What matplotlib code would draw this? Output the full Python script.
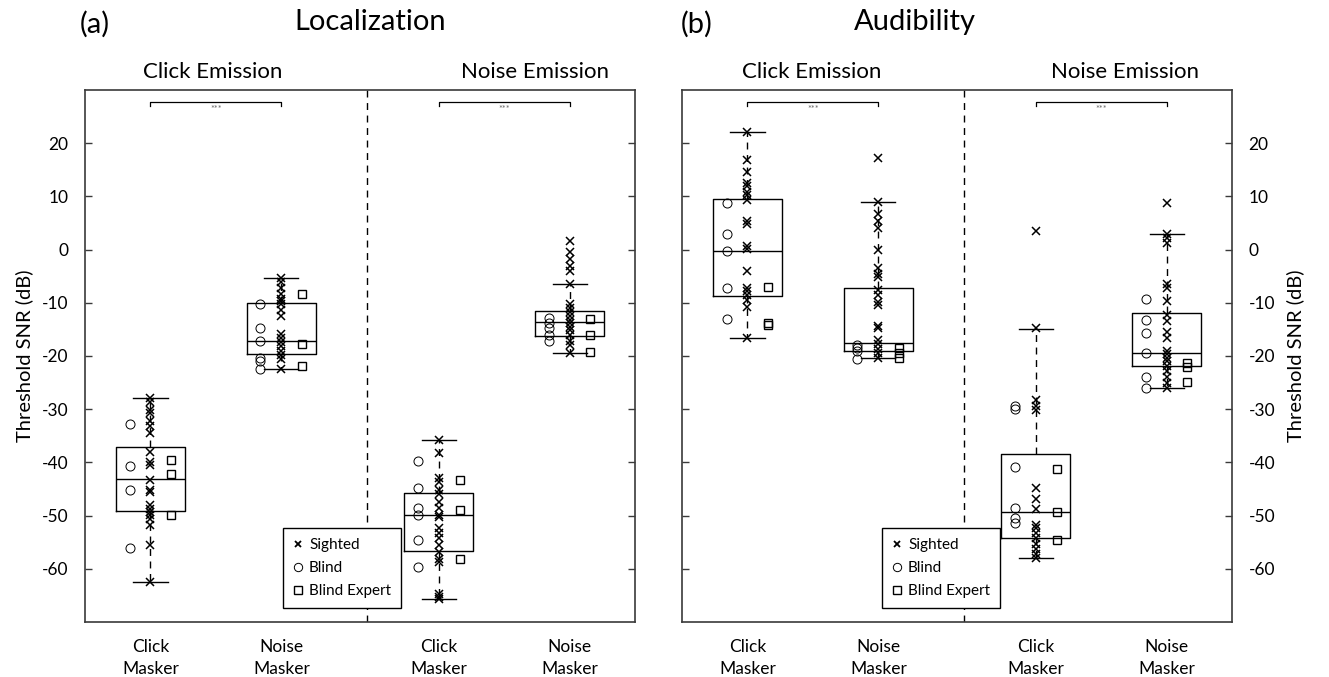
import matplotlib
matplotlib.use("Agg")
import matplotlib.pyplot as plt
from matplotlib.lines import Line2D

plt.rcParams['font.family'] = ['Lato', 'DejaVu Sans']

# ---------------- data ----------------
panel_titles = ["Localization", "Audibility"]
panel_tags = ["(a)", "(b)"]
emission_labels = ["Click Emission", "Noise Emission"]
masker_labels = ["Click\nMasker", "Noise\nMasker", "Click\nMasker", "Noise\nMasker"]
positions = [1, 2, 3.2, 4.2]

# box statistics: [click/click, click/noise, noise/click, noise/noise]
loc_whishi = [-27.9, -5.4, -35.8, -6.4]
loc_q3 = [-37.1, -10.1, -45.7, -11.5]
loc_med = [-43.2, -17.2, -49.9, -13.7]
loc_q1 = [-49.2, -19.6, -56.7, -16.2]
loc_whislo = [-62.4, -22.4, -65.6, -19.5]

aud_whishi = [22.1, 9.0, -14.9, 3.0]
aud_q3 = [9.5, -7.2, -38.4, -11.9]
aud_med = [-0.3, -17.5, -49.4, -19.5]
aud_q1 = [-8.7, -19.0, -54.3, -21.8]
aud_whislo = [-16.7, -20.4, -57.9, -26.0]

# individual thresholds (dB)
loc_sighted = [
    [-27.9, -28.7, -30.1, -30.7, -32.3, -33.1, -34.4, -38.0, -39.9, -40.4, -43.3,
     -45.1, -45.6, -48.1, -48.8, -49.4, -49.9, -50.7, -51.7, -55.5, -62.4],
    [-5.4, -6.0, -7.3, -8.3, -9.2, -9.6, -10.3, -11.4, -12.5, -15.8, -16.6, -17.4,
     -18.2, -19.0, -19.8, -20.6, -22.4],
    [-35.8, -38.3, -43.0, -43.6, -45.2, -45.9, -47.5, -48.5, -49.9, -50.3, -52.4,
     -53.3, -54.3, -55.6, -56.9, -58.2, -58.8, -64.7, -65.3, -65.6],
    [1.6, -0.5, -1.8, -3.1, -4.1, -6.4, -10.3, -10.9, -11.7, -12.5, -13.2, -13.8,
     -14.5, -15.1, -16.1, -17.1, -18.0, -19.5],
]
loc_blind = [
    [-32.7, -40.7, -45.2, -56.1],
    [-10.3, -14.7, -17.2, -20.3, -21.0, -22.4],
    [-39.7, -44.9, -48.5, -49.9, -54.6, -59.7],
    [-12.8, -13.8, -14.8, -16.1, -17.1],
]
loc_expert = [
    [-39.6, -42.2, -49.8],
    [-8.3, -17.7, -21.8],
    [-43.3, -49.0, -58.2],
    [-13.0, -16.0, -19.2],
]

aud_sighted = [
    [22.1, 16.9, 14.5, 12.6, 11.9, 10.9, 10.3, 9.3, 5.4, 4.8, 0.7, 0.1, -4.1, -7.2,
     -7.8, -8.5, -9.4, -10.7, -16.7],
    [17.3, 9.0, 6.7, 5.4, 4.1, -0.1, -3.5, -4.5, -5.2, -7.5, -8.6, -9.8, -10.5,
     -14.3, -14.8, -17.0, -17.7, -18.7, -19.5, -20.4],
    [3.5, -14.7, -28.3, -29.4, -30.2, -44.9, -46.9, -48.8, -51.7, -52.4, -53.3,
     -54.3, -55.3, -56.2, -57.2, -57.9],
    [8.7, 3.0, 2.2, 1.3, -6.4, -7.2, -9.6, -12.2, -13.5, -15.4, -16.6, -19.0, -19.6,
     -20.3, -20.9, -21.9, -22.9, -23.9, -25.1, -26.0],
]
aud_blind = [
    [8.7, 3.0, -0.2, -7.2, -13.0],
    [-17.9, -18.5, -19.1, -20.6],
    [-29.4, -30.0, -40.9, -48.5, -50.4, -51.4],
    [-9.3, -13.2, -15.6, -19.5, -24.0, -26.0],
]
aud_expert = [
    [-7.0, -13.8, -14.1],
    [-18.5, -19.5, -20.4],
    [-41.3, -49.3, -54.5],
    [-21.3, -22.0, -24.8],
]

yticks = [-60, -50, -40, -30, -20, -10, 0, 10, 20]
legend_labels = ["Sighted", "Blind", "Blind Expert"]

# ---------------- figure ----------------
W, H = 1329, 677
fig = plt.figure(figsize=(W / 100, H / 100), dpi=100)

def fx(px):
    return px / W

def fy(py):
    return 1 - py / H

axes_px = [(85, 635), (682, 1232)]
top_px, bot_px = 90, 622
spine_col = '#3a3a3a'
emission_px = [(213, 535), (812, 1125)]

panels = [
    (loc_whishi, loc_q3, loc_med, loc_q1, loc_whislo, loc_sighted, loc_blind, loc_expert),
    (aud_whishi, aud_q3, aud_med, aud_q1, aud_whislo, aud_sighted, aud_blind, aud_expert),
]

for k, (x0, x1) in enumerate(axes_px):
    ax = fig.add_axes([fx(x0), fy(bot_px), fx(x1 - x0), (bot_px - top_px) / H])
    whishi, q3, med, q1, whislo, sighted, blind, expert = panels[k]
    stats = []
    for i in range(4):
        stats.append(dict(med=med[i], q1=q1[i], q3=q3[i], whislo=whislo[i],
                          whishi=whishi[i], fliers=[]))
    ax.bxp(stats, positions=positions, widths=0.53, capwidths=0.26,
           showfliers=False, manage_ticks=False,
           boxprops=dict(color='black', linewidth=1.0),
           medianprops=dict(color='black', linewidth=1.0),
           whiskerprops=dict(color='black', linewidth=1.0, linestyle=(0, (5, 4))),
           capprops=dict(color='black', linewidth=1.0))
    for i, p in enumerate(positions):
        ax.plot([p] * len(sighted[i]), sighted[i], 'x', color='black',
                markersize=5.5, markeredgewidth=1.1, zorder=3)
        ax.plot([p - 0.16] * len(blind[i]), blind[i], 'o', color='black',
                markerfacecolor='none', markersize=6.5, markeredgewidth=0.7, zorder=3)
        ax.plot([p + 0.16] * len(expert[i]), expert[i], 's', color='black',
                markerfacecolor='none', markersize=6, markeredgewidth=1.0, zorder=3)
    ax.set_xlim(0.5, 4.7)
    ax.set_ylim(-70, 30)
    ax.axvline(2.65, color='black', linewidth=1.0, linestyle=(0, (5, 4)))
    ax.set_yticks(yticks)
    ax.set_yticklabels([str(v) for v in yticks])
    ax.set_xticks(positions)
    ax.set_xticklabels(masker_labels, fontsize=12.5, linespacing=1.45)
    ax.tick_params(axis='x', length=0, pad=12)
    ax.tick_params(axis='y', direction='in', length=5, width=1, color=spine_col,
                   labelsize=12.5, left=True, right=True,
                   labelleft=(k == 0), labelright=(k == 1), pad=12)
    for s in ax.spines.values():
        s.set_color(spine_col)
        s.set_linewidth(1.2)
    # significance brackets
    for a, b in [(positions[0], positions[1]), (positions[2], positions[3])]:
        ax.plot([a, a, b, b], [26.9, 27.8, 27.8, 26.9], color='black', linewidth=0.9)
        ax.text((a + b) / 2, 27.2, "***", ha='center', va='top', fontsize=6.5,
                color='#666666')
    if k == 0:
        ax.set_ylabel("Threshold SNR (dB)", fontsize=14.5, labelpad=6)
    else:
        ax.yaxis.set_label_position('right')
        ax.set_ylabel("Threshold SNR (dB)", fontsize=14.5, labelpad=8)
    # emission labels
    for j in range(2):
        fig.text(fx(emission_px[k][j]), fy(72), emission_labels[j],
                 ha='center', va='center', fontsize=16)
    handles = [
        Line2D([], [], marker='x', color='black', linestyle='none', markersize=4.5,
               markeredgewidth=1.3),
        Line2D([], [], marker='o', color='black', markerfacecolor='none',
               linestyle='none', markersize=6, markeredgewidth=0.7),
        Line2D([], [], marker='s', color='black', markerfacecolor='none',
               linestyle='none', markersize=6, markeredgewidth=1.0),
    ]
    lx = 283 if k == 0 else 882
    leg = ax.legend(handles, legend_labels, loc='upper left',
                    bbox_to_anchor=(fx(lx), fy(528)), bbox_transform=fig.transFigure,
                    fontsize=11, frameon=True, fancybox=False, framealpha=1,
                    edgecolor='black', handlelength=0.7, handletextpad=0.35,
                    borderpad=0.65, labelspacing=0.6, borderaxespad=0)
    leg.get_frame().set_linewidth(1.0)
    leg.set_zorder(5)

fig.text(fx(95), fy(24), panel_tags[0], fontsize=21, ha='center', va='center')
fig.text(fx(370), fy(22), panel_titles[0], fontsize=21, ha='center', va='center')
fig.text(fx(697), fy(24), panel_tags[1], fontsize=21, ha='center', va='center')
fig.text(fx(915), fy(22), panel_titles[1], fontsize=21, ha='center', va='center')

fig.savefig("out.png", dpi=100)
